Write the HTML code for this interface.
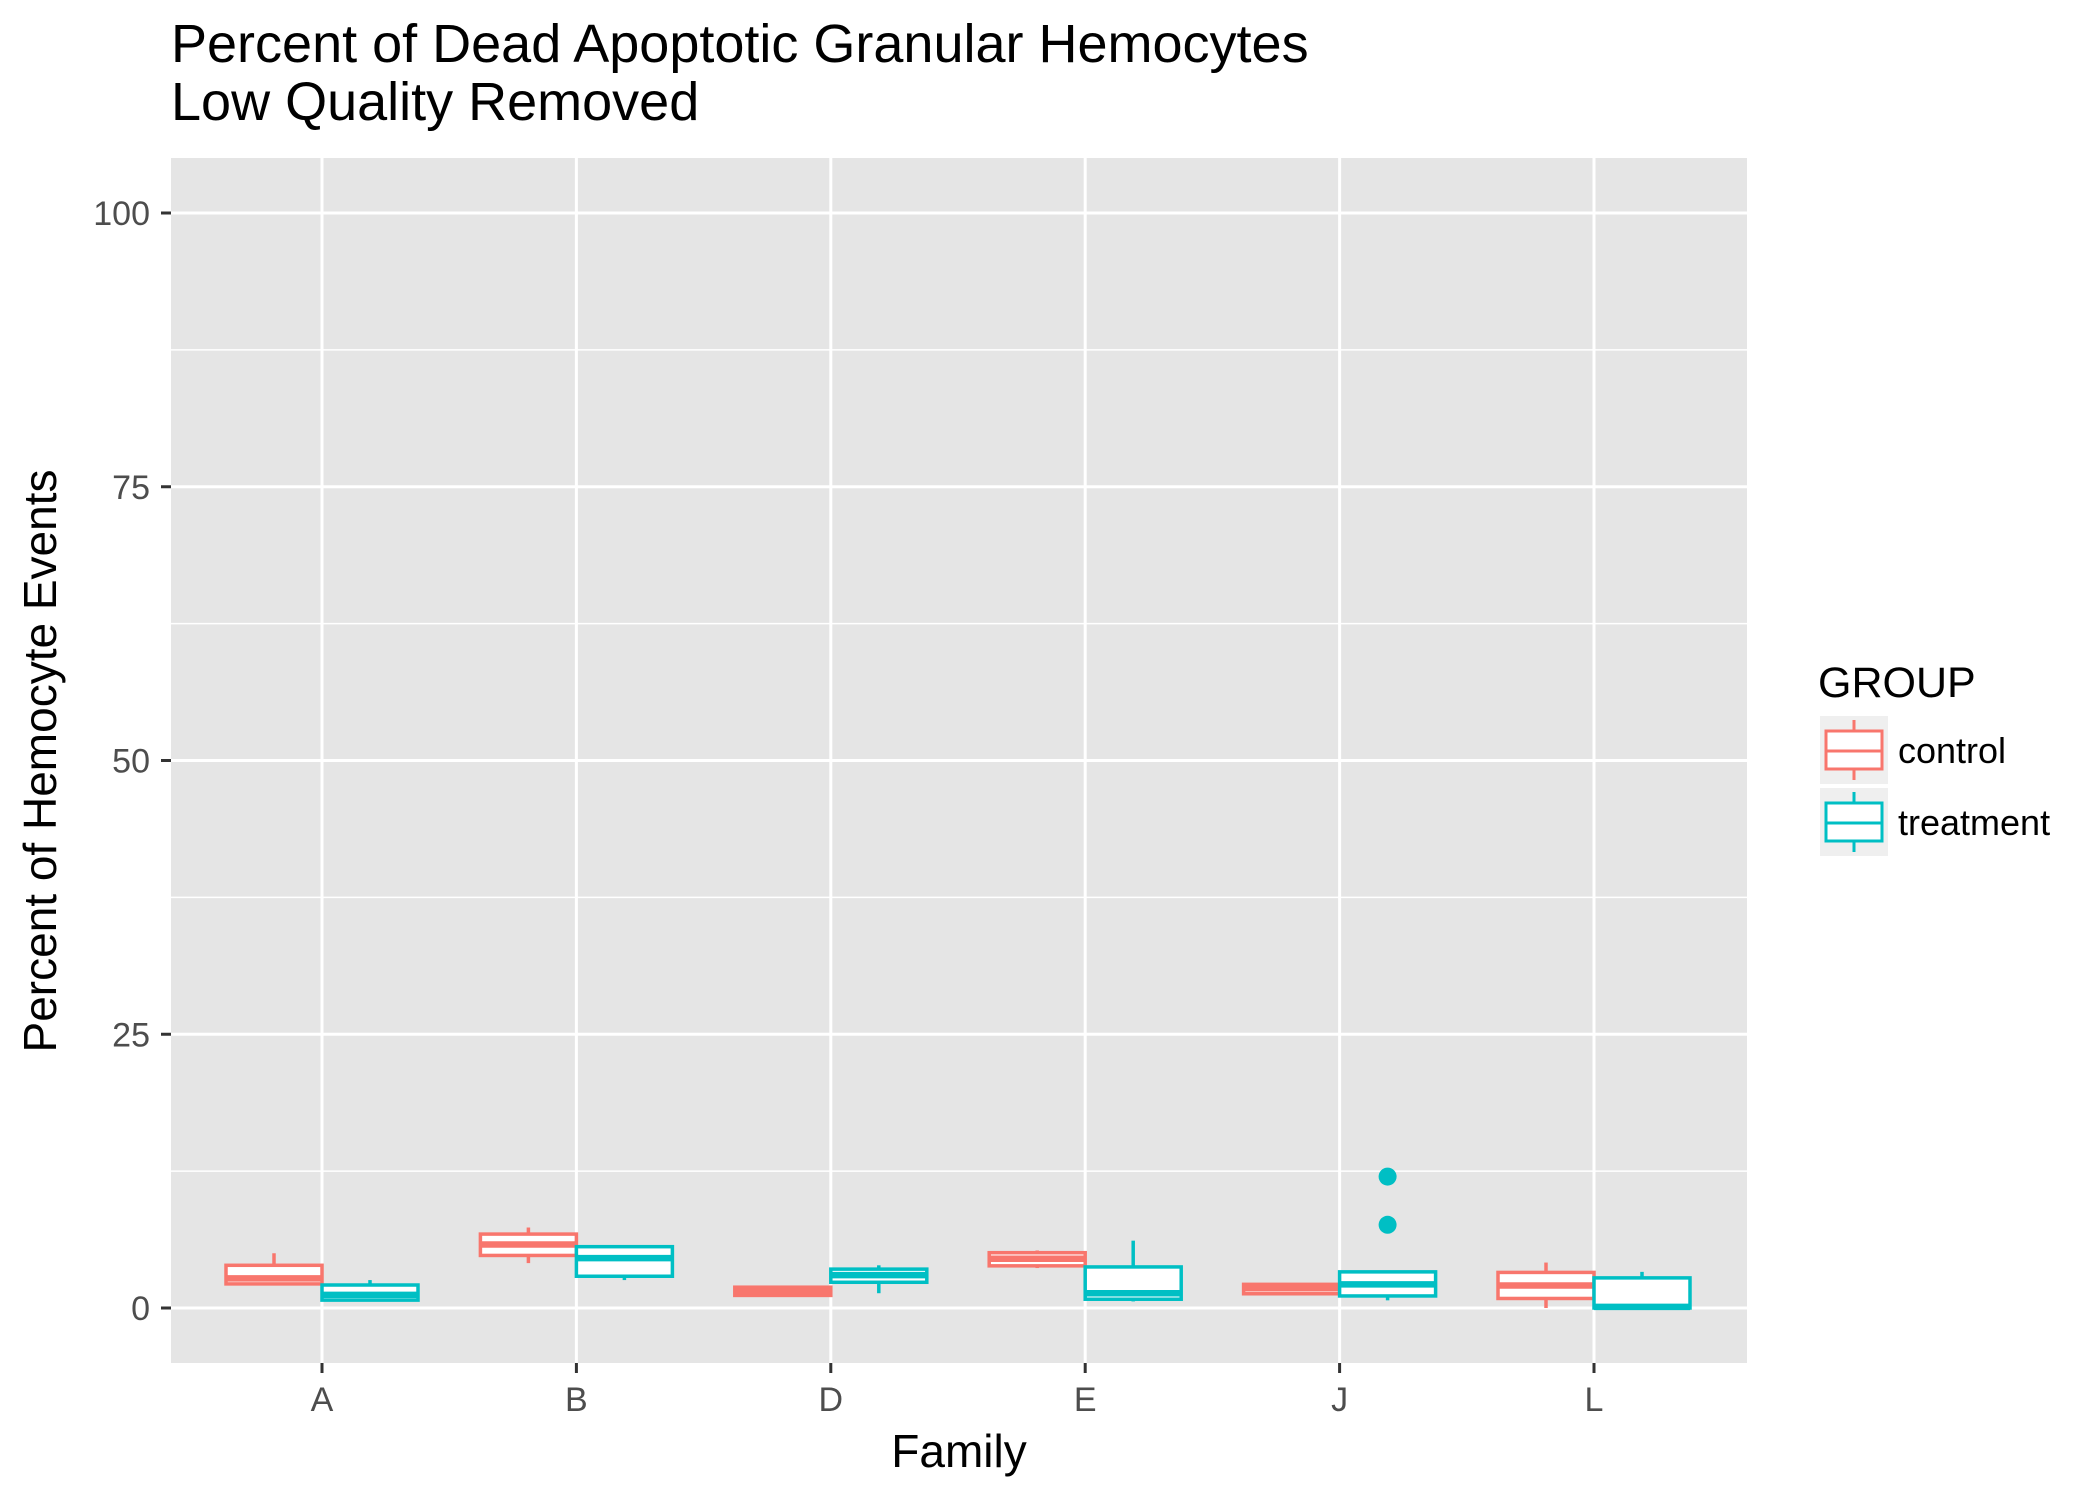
<!DOCTYPE html>
<html><head><meta charset="utf-8"><style>
body{margin:0;background:#fff;}
svg{display:block;font-family:"Liberation Sans",sans-serif;}
</style></head><body>
<svg id="chart" width="2099" height="1499" viewBox="0 0 2099 1499">
<rect width="2099" height="1499" fill="#fff"/>
<text x="171" y="62" font-size="54" fill="#000">Percent of Dead Apoptotic Granular Hemocytes</text>
<text x="171" y="120" font-size="54" fill="#000">Low Quality Removed</text>
<rect x="171" y="158" width="1576" height="1205" fill="#e5e5e5"/>
<g id="grid"></g>
<g id="marks"></g>
<g id="axes"></g>
<text x="959" y="1467" font-size="46" text-anchor="middle">Family</text>
<text transform="translate(56,761) rotate(-90)" font-size="46" text-anchor="middle">Percent of Hemocyte Events</text>
<g>
<text x="1818" y="697" font-size="43">GROUP</text>
<g>
<rect x="1820" y="716" width="68" height="68" fill="#efefef"/>
<line x1="1854" y1="720" x2="1854" y2="780" stroke="#F8766D" stroke-width="3"/>
<rect x="1826" y="731" width="56" height="38" fill="#fff" stroke="#F8766D" stroke-width="3"/>
<line x1="1826" y1="751" x2="1882" y2="751" stroke="#F8766D" stroke-width="3"/>
<text x="1898" y="763" font-size="36">control</text>
</g>
<g>
<rect x="1820" y="788" width="68" height="68" fill="#efefef"/>
<line x1="1854" y1="792" x2="1854" y2="852" stroke="#00BFC4" stroke-width="3"/>
<rect x="1826" y="803" width="56" height="38" fill="#fff" stroke="#00BFC4" stroke-width="3"/>
<line x1="1826" y1="823" x2="1882" y2="823" stroke="#00BFC4" stroke-width="3"/>
<text x="1898" y="835" font-size="36">treatment</text>
</g>
</g>
</svg>
<script>
const categories = ["A","B","D","E","J","L"];
const groups = ["control","treatment"];
const yTicks = [0,25,50,75,100];
// [lowerWhisker, q1, median, q3, upperWhisker] per category
const controlStats = [
 [2.1,2.2,2.7,3.9,5.0],
 [4.1,4.8,5.8,6.75,7.35],
 [1.15,1.15,1.5,1.9,1.9],
 [3.65,3.85,4.5,5.05,5.25],
 [1.25,1.3,1.8,2.16,2.2],
 [0,0.87,2.05,3.25,4.15]
];
const treatmentStats = [
 [0.7,0.72,1.2,2.1,2.55],
 [2.55,2.9,4.55,5.6,5.75],
 [1.35,2.35,3.0,3.55,3.9],
 [0.6,0.8,1.35,3.75,6.15],
 [0.7,1.1,2.16,3.3,3.3],
 [0,0,0.1,2.75,3.3]
];
const treatmentOutliers = [[],[],[],[],[7.6,12.0],[]];
const colors = {control:"#F8766D", treatment:"#00BFC4"};

const NS="http://www.w3.org/2000/svg";
const panel={x0:171,x1:1747,y0:158,y1:1363};
function yScale(v){return 1308 + (213-1308)*v/100;}
function xScale(i){return 322 + i*254.4;}
const boxW = 96;
function mk(tag,attrs,parent){const e=document.createElementNS(NS,tag);for(const k in attrs)e.setAttribute(k,attrs[k]);parent.appendChild(e);return e;}
const grid=document.getElementById('grid'), marks=document.getElementById('marks'), axes=document.getElementById('axes');
for(let i=0;i<yTicks.length-1;i++){
 const v=(yTicks[i]+yTicks[i+1])/2;
 const l=mk('line',{x1:panel.x0,x2:panel.x1,y1:yScale(v),y2:yScale(v),stroke:'#fff','stroke-width':1.5},grid);
 
 
}
yTicks.forEach(v=>{
 const y=yScale(v);
 const l=mk('line',{x1:panel.x0,x2:panel.x1,y1:y,y2:y,stroke:'#fff','stroke-width':3},grid);
 
 
 const t=mk('line',{x1:161,x2:171,y1:y,y2:y,stroke:'#333','stroke-width':3},axes);
 
 
 const tx=mk('text',{x:150,y:y+12,'font-size':34,'text-anchor':'end',fill:'#4d4d4d'},axes);
 tx.textContent=v;
 
 
});
categories.forEach((c,i)=>{
 const x=xScale(i);
 const l=mk('line',{x1:x,x2:x,y1:panel.y0,y2:panel.y1,stroke:'#fff','stroke-width':3},grid);
 
 
 const t=mk('line',{x1:x,x2:x,y1:panel.y1,y2:panel.y1+10,stroke:'#333','stroke-width':3},axes);
 
 
 const tx=mk('text',{x:x,y:1411,'font-size':34,'text-anchor':'middle',fill:'#4d4d4d'},axes);
 tx.textContent=c;
 
 
});
function drawBox(s,cx,col,name){
 const g=mk('g',{},marks);
 
 
 mk('line',{x1:cx,x2:cx,y1:yScale(s[4]),y2:yScale(s[3]),stroke:col,'stroke-width':3.5},g);
 mk('line',{x1:cx,x2:cx,y1:yScale(s[1]),y2:yScale(s[0]),stroke:col,'stroke-width':3.5},g);
 const yt=yScale(s[3]), yb=yScale(s[1]);
 mk('rect',{x:cx-boxW/2,y:yt,width:boxW,height:Math.max(yb-yt,0.5),fill:'#fff',stroke:col,'stroke-width':3.5},g);
 mk('line',{x1:cx-boxW/2,x2:cx+boxW/2,y1:yScale(s[2]),y2:yScale(s[2]),stroke:col,'stroke-width':6.5},g);
}
categories.forEach((c,i)=>{
 drawBox(controlStats[i],xScale(i)-boxW/2,colors.control,'box-control-'+c);
 drawBox(treatmentStats[i],xScale(i)+boxW/2,colors.treatment,'box-treatment-'+c);
 treatmentOutliers[i].forEach(v=>{
  const p=mk('circle',{cx:xScale(i)+boxW/2,cy:yScale(v),r:9,fill:colors.treatment},marks);
  
  
 });
});
</script>
</body></html>
